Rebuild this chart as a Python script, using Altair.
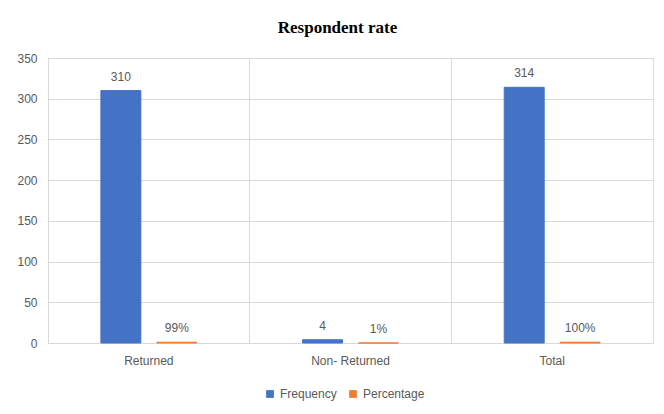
import altair as alt
import pandas as pd

categories = ["Returned", "Non- Returned", "Total"]
frequency = [310, 4, 314]
percentage = [0.99, 0.01, 1.00]
series = ["Frequency", "Percentage"]
colors = ["#4472C4", "#ED7D31"]

rows = []
for c, f, p in zip(categories, frequency, percentage):
    rows.append({"category": c, "series": "Frequency", "value": f, "label": f"{f}"})
    rows.append({"category": c, "series": "Percentage", "value": p, "label": f"{round(p*100)}%"})
df = pd.DataFrame(rows)

x = alt.X("category:N", sort=categories, title=None,
          scale=alt.Scale(paddingInner=0, paddingOuter=0),
          axis=alt.Axis(bandPosition=0, grid=True, gridColor="#d9d9d9", ticks=False,
                        domain=True, domainColor="#d9d9d9", labelAngle=0,
                        labelColor="#595959", labelFont="Liberation Sans",
                        labelFontSize=12, labelPadding=12))
xo = alt.XOffset("series:N", sort=series,
                 scale=alt.Scale(paddingInner=0.2857, paddingOuter=0.946))
y = alt.Y("value:Q", title=None,
          scale=alt.Scale(domain=[0, 350]),
          axis=alt.Axis(values=list(range(0, 351, 50)), grid=True, gridColor="#d9d9d9",
                        ticks=False, domain=False, labelColor="#595959",
                        labelFont="Liberation Sans", labelFontSize=12, labelPadding=11))
color = alt.Color("series:N", sort=series, scale=alt.Scale(domain=series, range=colors),
                  title=None,
                  legend=alt.Legend(orient="none", direction="horizontal", legendX=216,
                                    legendY=330, symbolType="square", symbolSize=60,
                                    labelColor="#595959", labelFont="Liberation Sans",
                                    labelFontSize=12, columnPadding=10, symbolStrokeWidth=0))

bars = alt.Chart(df).mark_bar(strokeWidth=1).encode(
    x=x, xOffset=xo, y=y, color=color,
    stroke=alt.Stroke("series:N", sort=series, scale=alt.Scale(domain=series, range=colors), legend=None),
)
text = alt.Chart(df).mark_text(dy=-7, baseline="bottom", color="#595959",
                               font="Liberation Sans", fontSize=12).encode(
    x=x, xOffset=xo, y=y, text="label:N"
)

chart = (bars + text).properties(
    width=605, height=285,
    title=alt.TitleParams("Respondent rate", font="Liberation Serif", fontSize=17,
                          fontWeight="bold", color="#000000", anchor="middle", offset=15, dx=-13),
    padding={"left": 40, "top": 50, "right": 3, "bottom": 60},
    autosize=alt.AutoSizeParams(type="none"),
).configure_view(fill="#f4f4f4", stroke="#d9d9d9").configure(background="white")

chart.save("out.html", embed_options={"renderer": "svg", "actions": False})
